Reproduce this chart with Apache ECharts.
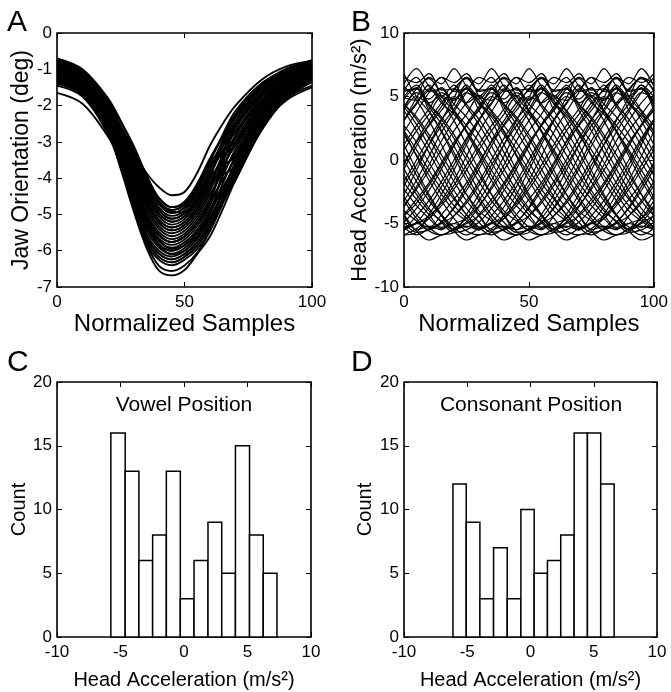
<!DOCTYPE html>
<html><head><meta charset="utf-8">
<script src="https://cdn.jsdelivr.net/npm/echarts@6/dist/echarts.min.js"></script>
<style>html,body{margin:0;padding:0;background:#fff}#c{width:671px;height:692px}</style>
</head><body><div id="c"></div>
<script>
// ---------- Panel A: jaw orientation traces (deg) ----------
const samplesA = [0,10,20,25,30,35,40,45,50,55,60,65,70,80,90,100];
const jawTraces = [
[-0.70,-1.00,-1.80,-2.43,-3.19,-4.00,-4.64,-4.88,-4.73,-4.24,-3.55,-2.80,-2.15,-1.40,-1.00,-0.75],
[-0.74,-1.04,-1.85,-2.43,-3.10,-3.90,-4.55,-4.80,-4.65,-4.15,-3.45,-2.85,-2.34,-1.53,-1.08,-0.81],
[-0.77,-1.07,-1.90,-2.56,-3.36,-4.19,-4.81,-5.04,-4.89,-4.42,-3.75,-2.95,-2.25,-1.47,-1.04,-0.78],
[-0.81,-1.11,-1.95,-2.56,-3.27,-4.09,-4.72,-4.96,-4.81,-4.33,-3.65,-3.05,-2.53,-1.66,-1.16,-0.87],
[-0.84,-1.14,-2.00,-2.69,-3.53,-4.38,-4.98,-5.20,-5.05,-4.60,-3.95,-3.15,-2.44,-1.60,-1.12,-0.84],
[-0.88,-1.18,-2.05,-2.69,-3.44,-4.28,-4.89,-5.12,-4.97,-4.51,-3.85,-3.25,-2.72,-1.79,-1.24,-0.93],
[-0.91,-1.21,-2.10,-2.82,-3.70,-4.57,-5.15,-5.36,-5.21,-4.78,-4.15,-3.35,-2.63,-1.73,-1.20,-0.90],
[-0.95,-1.25,-2.15,-2.82,-3.61,-4.47,-5.06,-5.28,-5.13,-4.69,-4.05,-3.45,-2.91,-1.92,-1.32,-0.99],
[-0.98,-1.28,-2.20,-2.95,-3.87,-4.76,-5.32,-5.52,-5.37,-4.96,-4.35,-3.55,-2.82,-1.86,-1.28,-0.96],
[-1.02,-1.32,-2.25,-2.95,-3.78,-4.66,-5.23,-5.44,-5.29,-4.87,-4.25,-3.65,-3.10,-2.05,-1.40,-1.05],
[-1.05,-1.35,-2.30,-3.08,-4.04,-4.95,-5.49,-5.68,-5.53,-5.14,-4.55,-3.75,-3.01,-1.99,-1.36,-1.02],
[-1.09,-1.39,-2.35,-3.08,-3.95,-4.85,-5.40,-5.60,-5.45,-5.05,-4.45,-3.85,-3.29,-2.18,-1.48,-1.11],
[-1.12,-1.42,-2.40,-3.21,-4.21,-5.14,-5.66,-5.84,-5.69,-5.32,-4.75,-3.95,-3.20,-2.12,-1.44,-1.08],
[-1.16,-1.46,-2.45,-3.21,-4.12,-5.04,-5.57,-5.76,-5.61,-5.23,-4.65,-4.05,-3.48,-2.31,-1.56,-1.17],
[-1.19,-1.49,-2.50,-3.34,-4.38,-5.33,-5.83,-6.00,-5.85,-5.50,-4.95,-4.15,-3.39,-2.25,-1.52,-1.14],
[-1.23,-1.53,-2.55,-3.34,-4.29,-5.23,-5.74,-5.92,-5.77,-5.41,-4.85,-4.25,-3.67,-2.44,-1.64,-1.23],
[-1.26,-1.56,-2.60,-3.47,-4.55,-5.52,-6.00,-6.16,-6.01,-5.68,-5.15,-4.35,-3.58,-2.38,-1.60,-1.20],
[-1.30,-1.60,-2.65,-3.47,-4.46,-5.42,-5.91,-6.08,-5.93,-5.59,-5.05,-4.45,-3.86,-2.57,-1.72,-1.29],
[-1.33,-1.63,-2.70,-3.60,-4.72,-5.71,-6.17,-6.32,-6.17,-5.86,-5.35,-4.55,-3.77,-2.51,-1.68,-1.26],
[-1.37,-1.67,-2.75,-3.60,-4.63,-5.61,-6.08,-6.24,-6.09,-5.77,-5.25,-4.65,-4.05,-2.70,-1.80,-1.35],
[-1.40,-1.70,-2.80,-3.70,-4.80,-5.80,-6.25,-6.40,-6.25,-5.95,-5.45,-4.70,-3.96,-2.64,-1.76,-1.32],
[-0.88,-1.18,-2.05,-3.05,-4.38,-5.33,-5.83,-6.00,-5.85,-5.50,-4.95,-3.85,-2.82,-1.86,-1.28,-0.96],
[-1.23,-1.53,-2.55,-3.05,-3.53,-4.38,-4.98,-5.20,-5.05,-4.60,-3.95,-3.65,-3.39,-2.25,-1.52,-1.14],
[-0.77,-1.07,-1.90,-2.86,-4.12,-5.04,-5.57,-5.76,-5.61,-5.23,-4.65,-3.60,-2.63,-1.73,-1.20,-0.90],
[-1.12,-1.42,-2.40,-2.86,-3.27,-4.09,-4.72,-4.96,-4.81,-4.33,-3.65,-3.35,-3.10,-2.05,-1.40,-1.05],
[-0.98,-1.28,-2.20,-3.25,-4.63,-5.61,-6.08,-6.24,-6.09,-5.77,-5.25,-4.40,-3.58,-2.38,-1.60,-1.20],
[-1.33,-1.63,-2.70,-3.25,-3.78,-4.66,-5.23,-5.44,-5.29,-4.87,-4.25,-3.35,-2.53,-1.66,-1.16,-0.87],
[-1.05,-1.35,-2.30,-2.86,-3.44,-4.28,-4.89,-5.12,-4.97,-4.51,-3.85,-3.05,-2.34,-1.53,-1.08,-0.81],
[-0.84,-1.14,-2.00,-3.15,-4.72,-5.71,-6.17,-6.32,-6.17,-5.86,-5.35,-4.60,-3.86,-2.57,-1.72,-1.29],
[-0.95,-1.25,-2.15,-2.66,-3.19,-4.00,-4.64,-4.88,-4.73,-4.24,-3.55,-3.25,-3.01,-1.99,-1.36,-1.02],
[-1.26,-1.56,-2.60,-3.31,-4.12,-5.04,-5.57,-5.76,-5.61,-5.23,-4.65,-3.40,-2.25,-1.47,-1.04,-0.78],
[-0.74,-1.04,-1.85,-2.66,-3.70,-4.57,-5.15,-5.36,-5.21,-4.78,-4.15,-3.90,-3.67,-2.44,-1.64,-1.23],
[-1.33,-1.63,-2.70,-3.75,-4.89,-5.90,-6.55,-6.68,-6.53,-6.09,-5.60,-4.85,-4.05,-2.70,-1.80,-1.35],
[-1.26,-1.56,-2.60,-3.64,-4.80,-5.80,-6.42,-6.56,-6.41,-6.05,-5.45,-4.65,-3.86,-2.57,-1.72,-1.29],
[-0.85,-1.15,-2.00,-2.70,-3.30,-3.85,-4.25,-4.47,-4.38,-3.85,-3.10,-2.50,-2.00,-1.30,-0.92,-0.78],
[-0.90,-1.20,-2.10,-2.80,-3.50,-4.10,-4.55,-4.80,-4.72,-4.25,-3.50,-2.85,-2.25,-1.45,-0.98,-0.80],
[-1.00,-1.30,-2.20,-2.90,-3.60,-4.25,-4.70,-4.93,-4.95,-4.60,-3.90,-3.00,-2.30,-1.45,-1.00,-0.85],
[-1.65,-1.95,-2.85,-3.50,-4.30,-5.10,-5.70,-5.95,-5.85,-5.50,-4.95,-4.30,-3.65,-2.55,-1.85,-1.50],
[-1.45,-1.75,-2.75,-3.45,-4.35,-5.25,-5.85,-6.10,-6.00,-5.65,-5.10,-4.45,-3.75,-2.60,-1.80,-1.45]
];

// ---------- Panel B: head acceleration traces (m/s^2) ----------
const samplesB = [0,5,10,15,20,25,30,35,40,45,50,55,60,65,70,75,80,85,90,95,100];
const headTraces = [
[5.0,5.9,4.4,3.2,1.7,0,-1.7,-3.2,-4.4,-5.5,-5.2,-5.5,-4.4,-3.2,-1.7,0,1.7,3.2,4.4,5.9,5.0],
[6.5,6.1,6.8,5.0,3.8,2.2,0.3,-1.6,-3.2,-4.6,-5.6,-5.9,-5.4,-4.6,-3.2,-1.6,0.3,2.2,3.8,5.3,6.5],
[3.9,5.0,4.5,5.1,3.9,2.7,1.4,-0.2,-1.8,-3.1,-4.3,-5.3,-5.0,-5.3,-4.3,-3.1,-1.8,-0.2,1.4,2.7,3.9],
[3.2,4.4,5.9,5.0,5.9,4.4,3.2,1.7,0,-1.7,-3.2,-4.4,-5.5,-5.2,-5.5,-4.4,-3.2,-1.7,0,1.7,3.2],
[2.2,3.8,5.3,6.5,6.1,6.8,5.0,3.8,2.2,0.3,-1.6,-3.2,-4.6,-5.6,-5.9,-5.4,-4.6,-3.2,-1.6,0.3,2.2],
[-0.2,1.4,2.7,3.9,5.0,4.5,5.1,3.9,2.7,1.4,-0.2,-1.8,-3.1,-4.3,-5.3,-5.0,-5.3,-4.3,-3.1,-1.8,-0.2],
[-1.7,0,1.7,3.2,4.4,5.9,5.0,5.9,4.4,3.2,1.7,0,-1.7,-3.2,-4.4,-5.5,-5.2,-5.5,-4.4,-3.2,-1.7],
[-3.2,-1.6,0.3,2.2,3.8,5.3,6.5,6.1,6.8,5.0,3.8,2.2,0.3,-1.6,-3.2,-4.6,-5.6,-5.9,-5.4,-4.6,-3.2],
[-4.3,-3.1,-1.8,-0.2,1.4,2.7,3.9,5.0,4.5,5.1,3.9,2.7,1.4,-0.2,-1.8,-3.1,-4.3,-5.3,-5.0,-5.3,-4.3],
[-5.5,-4.4,-3.2,-1.7,0,1.7,3.2,4.4,5.9,5.0,5.9,4.4,3.2,1.7,0,-1.7,-3.2,-4.4,-5.5,-5.2,-5.5],
[-5.9,-5.4,-4.6,-3.2,-1.6,0.3,2.2,3.8,5.3,6.5,6.1,6.8,5.0,3.8,2.2,0.3,-1.6,-3.2,-4.6,-5.6,-5.9],
[-5.3,-5.0,-5.3,-4.3,-3.1,-1.8,-0.2,1.4,2.7,3.9,5.0,4.5,5.1,3.9,2.7,1.4,-0.2,-1.8,-3.1,-4.3,-5.3],
[-4.4,-5.5,-5.2,-5.5,-4.4,-3.2,-1.7,0,1.7,3.2,4.4,5.9,5.0,5.9,4.4,3.2,1.7,0,-1.7,-3.2,-4.4],
[-3.2,-4.6,-5.6,-5.9,-5.4,-4.6,-3.2,-1.6,0.3,2.2,3.8,5.3,6.5,6.1,6.8,5.0,3.8,2.2,0.3,-1.6,-3.2],
[-1.8,-3.1,-4.3,-5.3,-5.0,-5.3,-4.3,-3.1,-1.8,-0.2,1.4,2.7,3.9,5.0,4.5,5.1,3.9,2.7,1.4,-0.2,-1.8],
[0,-1.7,-3.2,-4.4,-5.5,-5.2,-5.5,-4.4,-3.2,-1.7,0,1.7,3.2,4.4,5.9,5.0,5.9,4.4,3.2,1.7,0],
[2.2,0.3,-1.6,-3.2,-4.6,-5.6,-5.9,-5.4,-4.6,-3.2,-1.6,0.3,2.2,3.8,5.3,6.5,6.1,6.8,5.0,3.8,2.2],
[2.7,1.4,-0.2,-1.8,-3.1,-4.3,-5.3,-5.0,-5.3,-4.3,-3.1,-1.8,-0.2,1.4,2.7,3.9,5.0,4.5,5.1,3.9,2.7],
[4.4,3.2,1.7,0,-1.7,-3.2,-4.4,-5.5,-5.2,-5.5,-4.4,-3.2,-1.7,0,1.7,3.2,4.4,5.9,5.0,5.9,4.4],
[6.8,5.0,3.8,2.2,0.3,-1.6,-3.2,-4.6,-5.6,-5.9,-5.4,-4.6,-3.2,-1.6,0.3,2.2,3.8,5.3,6.5,6.1,6.8],
[5.5,5.6,4.2,2.8,1.1,-0.7,-2.4,-3.8,-4.9,-5.7,-5.5,-4.9,-3.8,-2.4,-0.7,1.1,2.8,4.2,5.6,6.4,5.5],
[6.0,7.2,5.8,4.7,3.1,1.2,-0.8,-2.7,-4.3,-5.6,-6.3,-5.9,-5.7,-4.3,-2.7,-0.8,1.2,3.1,4.9,6.5,6.0],
[4.9,4.7,5.6,4.5,3.6,2.3,0.8,-0.8,-2.3,-3.6,-4.6,-5.4,-5.0,-4.6,-3.6,-2.3,-0.8,0.8,2.3,3.6,4.9],
[4.2,5.6,6.4,5.5,5.6,4.2,2.8,1.1,-0.7,-2.4,-3.8,-4.9,-5.7,-5.5,-4.9,-3.8,-2.4,-0.7,1.1,2.8,4.2],
[3.1,4.9,6.5,6.0,7.2,5.8,4.7,3.1,1.2,-0.8,-2.7,-4.3,-5.6,-6.3,-5.9,-5.7,-4.3,-2.7,-0.8,1.2,3.1],
[0.8,2.3,3.6,4.9,4.7,5.6,4.5,3.6,2.3,0.8,-0.8,-2.3,-3.6,-4.6,-5.4,-5.0,-4.6,-3.6,-2.3,-0.8,0.8],
[-0.7,1.1,2.8,4.2,5.6,6.4,5.5,5.6,4.2,2.8,1.1,-0.7,-2.4,-3.8,-4.9,-5.7,-5.5,-4.9,-3.8,-2.4,-0.7],
[-2.7,-0.8,1.2,3.1,4.9,6.5,6.0,7.2,5.8,4.7,3.1,1.2,-0.8,-2.7,-4.3,-5.6,-6.3,-5.9,-5.7,-4.3,-2.7],
[-3.6,-2.3,-0.8,0.8,2.3,3.6,4.9,4.7,5.6,4.5,3.6,2.3,0.8,-0.8,-2.3,-3.6,-4.6,-5.4,-5.0,-4.6,-3.6],
[-4.9,-3.8,-2.4,-0.7,1.1,2.8,4.2,5.6,6.4,5.5,5.6,4.2,2.8,1.1,-0.7,-2.4,-3.8,-4.9,-5.7,-5.5,-4.9],
[-5.9,-5.7,-4.3,-2.7,-0.8,1.2,3.1,4.9,6.5,6.0,7.2,5.8,4.7,3.1,1.2,-0.8,-2.7,-4.3,-5.6,-6.3,-5.9],
[-5.4,-5.0,-4.6,-3.6,-2.3,-0.8,0.8,2.3,3.6,4.9,4.7,5.6,4.5,3.6,2.3,0.8,-0.8,-2.3,-3.6,-4.6,-5.4],
[-4.9,-5.7,-5.5,-4.9,-3.8,-2.4,-0.7,1.1,2.8,4.2,5.6,6.4,5.5,5.6,4.2,2.8,1.1,-0.7,-2.4,-3.8,-4.9],
[-4.3,-5.6,-6.3,-5.9,-5.7,-4.3,-2.7,-0.8,1.2,3.1,4.9,6.5,6.0,7.2,5.8,4.7,3.1,1.2,-0.8,-2.7,-4.3],
[-2.3,-3.6,-4.6,-5.4,-5.0,-4.6,-3.6,-2.3,-0.8,0.8,2.3,3.6,4.9,4.7,5.6,4.5,3.6,2.3,0.8,-0.8,-2.3],
[-0.7,-2.4,-3.8,-4.9,-5.7,-5.5,-4.9,-3.8,-2.4,-0.7,1.1,2.8,4.2,5.6,6.4,5.5,5.6,4.2,2.8,1.1,-0.7],
[1.2,-0.8,-2.7,-4.3,-5.6,-6.3,-5.9,-5.7,-4.3,-2.7,-0.8,1.2,3.1,4.9,6.5,6.0,7.2,5.8,4.7,3.1,1.2],
[2.3,0.8,-0.8,-2.3,-3.6,-4.6,-5.4,-5.0,-4.6,-3.6,-2.3,-0.8,0.8,2.3,3.6,4.9,4.7,5.6,4.5,3.6,2.3],
[4.2,2.8,1.1,-0.7,-2.4,-3.8,-4.9,-5.7,-5.5,-4.9,-3.8,-2.4,-0.7,1.1,2.8,4.2,5.6,6.4,5.5,5.6,4.2],
[5.8,4.7,3.1,1.2,-0.8,-2.7,-4.3,-5.6,-6.3,-5.9,-5.7,-4.3,-2.7,-0.8,1.2,3.1,4.9,6.5,6.0,7.2,5.8],
[5.4,5.6,3.9,2.3,0.6,-1.2,-2.9,-4.3,-5.3,-5.9,-5.4,-4.9,-3.7,-2.1,-0.4,1.5,3.1,4.5,5.5,6.5,5.4],
[5.5,6.5,5.4,5.6,3.9,2.3,0.6,-1.2,-2.9,-4.3,-5.3,-5.9,-5.4,-4.9,-3.7,-2.1,-0.4,1.5,3.1,4.5,5.5],
[3.1,4.5,5.5,6.5,5.4,5.6,3.9,2.3,0.6,-1.2,-2.9,-4.3,-5.3,-5.9,-5.4,-4.9,-3.7,-2.1,-0.4,1.5,3.1],
[-0.4,1.5,3.1,4.5,5.5,6.5,5.4,5.6,3.9,2.3,0.6,-1.2,-2.9,-4.3,-5.3,-5.9,-5.4,-4.9,-3.7,-2.1,-0.4],
[-3.7,-2.1,-0.4,1.5,3.1,4.5,5.5,6.5,5.4,5.6,3.9,2.3,0.6,-1.2,-2.9,-4.3,-5.3,-5.9,-5.4,-4.9,-3.7],
[-5.4,-4.9,-3.7,-2.1,-0.4,1.5,3.1,4.5,5.5,6.5,5.4,5.6,3.9,2.3,0.6,-1.2,-2.9,-4.3,-5.3,-5.9,-5.4],
[-5.3,-5.9,-5.4,-4.9,-3.7,-2.1,-0.4,1.5,3.1,4.5,5.5,6.5,5.4,5.6,3.9,2.3,0.6,-1.2,-2.9,-4.3,-5.3],
[-2.9,-4.3,-5.3,-5.9,-5.4,-4.9,-3.7,-2.1,-0.4,1.5,3.1,4.5,5.5,6.5,5.4,5.6,3.9,2.3,0.6,-1.2,-2.9],
[0.6,-1.2,-2.9,-4.3,-5.3,-5.9,-5.4,-4.9,-3.7,-2.1,-0.4,1.5,3.1,4.5,5.5,6.5,5.4,5.6,3.9,2.3,0.6],
[3.9,2.3,0.6,-1.2,-2.9,-4.3,-5.3,-5.9,-5.4,-4.9,-3.7,-2.1,-0.4,1.5,3.1,4.5,5.5,6.5,5.4,5.6,3.9],
[4.8,5.7,4.4,3.4,2.0,0.4,-1.2,-2.7,-4.0,-4.8,-5.5,-5.0,-4.4,-3.4,-2.0,-0.4,1.2,2.7,4.0,5.3,4.8],
[4.0,5.3,4.8,5.7,4.4,3.4,2.0,0.4,-1.2,-2.7,-4.0,-4.8,-5.5,-5.0,-4.4,-3.4,-2.0,-0.4,1.2,2.7,4.0],
[1.2,2.7,4.0,5.3,4.8,5.7,4.4,3.4,2.0,0.4,-1.2,-2.7,-4.0,-4.8,-5.5,-5.0,-4.4,-3.4,-2.0,-0.4,1.2],
[-2.0,-0.4,1.2,2.7,4.0,5.3,4.8,5.7,4.4,3.4,2.0,0.4,-1.2,-2.7,-4.0,-4.8,-5.5,-5.0,-4.4,-3.4,-2.0],
[-4.4,-3.4,-2.0,-0.4,1.2,2.7,4.0,5.3,4.8,5.7,4.4,3.4,2.0,0.4,-1.2,-2.7,-4.0,-4.8,-5.5,-5.0,-4.4],
[-5.5,-5.0,-4.4,-3.4,-2.0,-0.4,1.2,2.7,4.0,5.3,4.8,5.7,4.4,3.4,2.0,0.4,-1.2,-2.7,-4.0,-4.8,-5.5],
[-4.0,-4.8,-5.5,-5.0,-4.4,-3.4,-2.0,-0.4,1.2,2.7,4.0,5.3,4.8,5.7,4.4,3.4,2.0,0.4,-1.2,-2.7,-4.0],
[-1.2,-2.7,-4.0,-4.8,-5.5,-5.0,-4.4,-3.4,-2.0,-0.4,1.2,2.7,4.0,5.3,4.8,5.7,4.4,3.4,2.0,0.4,-1.2],
[2.0,0.4,-1.2,-2.7,-4.0,-4.8,-5.5,-5.0,-4.4,-3.4,-2.0,-0.4,1.2,2.7,4.0,5.3,4.8,5.7,4.4,3.4,2.0],
[4.4,3.4,2.0,0.4,-1.2,-2.7,-4.0,-4.8,-5.5,-5.0,-4.4,-3.4,-2.0,-0.4,1.2,2.7,4.0,5.3,4.8,5.7,4.4]
];

// ---------- Panels C, D: histograms ----------
const binEdgesC = [-5.76,-4.63,-3.55,-2.47,-1.39,-0.29,0.79,1.89,2.97,4.05,5.16,6.24,7.32];
const countsC   = [16,13,6,8,13,3,6,9,5,15,8,5];
const binEdgesD = [-6.13,-5.08,-4.0,-2.92,-1.84,-0.76,0.29,1.34,2.39,3.45,4.5,5.55,6.61];
const countsD   = [12,9,3,7,3,10,5,6,8,16,16,12];

// ---------- tick labels ----------
const ticksSamples = [0,50,100];
const ticksJaw = [-7,-6,-5,-4,-3,-2,-1,0];
const ticksHead = [-10,-5,0,5,10];
const ticksHistX = [-10,-5,0,5,10];
const ticksCount = [0,5,10,15,20];

const FONT = '"Liberation Sans", Arial, Helvetica, sans-serif';
const grids = [
  {left:57, top:33, width:255, height:254},
  {left:404, top:33, width:253, height:254},
  {left:57, top:382, width:254, height:255},
  {left:404, top:382, width:253, height:255}
].map(g => Object.assign(g, {show:true, borderColor:'#000', borderWidth:1.6, backgroundColor:'transparent', containLabel:false}));

function rng(t){ return {min:t[0], max:t[t.length-1], interval:t[1]-t[0]}; }
const tickStyle = {inside:true, length:5, lineStyle:{color:'#000', width:1}};
const labelStyle = {color:'#000', fontSize:17, fontFamily:FONT};
const noLine = {show:false, onZero:false};

const xAxes = [], yAxes = [];
function addAxes(g, xt, yt, xName, xGap, xSize, yName, yGap, ySize){
  xAxes.push(Object.assign({type:'value', gridIndex:g, position:'bottom',
    axisLine:noLine, axisTick:tickStyle, splitLine:{show:false},
    axisLabel:Object.assign({margin:7}, labelStyle),
    name:xName, nameLocation:'middle', nameGap:xGap,
    nameTextStyle:{color:'#000', fontSize:xSize, fontFamily:FONT}}, rng(xt)));
  xAxes.push(Object.assign({type:'value', gridIndex:g, position:'top',
    axisLine:noLine, axisTick:tickStyle, splitLine:{show:false}, axisLabel:{show:false}}, rng(xt)));
  yAxes.push(Object.assign({type:'value', gridIndex:g, position:'left',
    axisLine:noLine, axisTick:tickStyle, splitLine:{show:false},
    axisLabel:Object.assign({margin:5}, labelStyle),
    name:yName, nameLocation:'middle', nameGap:yGap,
    nameTextStyle:{color:'#000', fontSize:ySize, fontFamily:FONT}}, rng(yt)));
  yAxes.push(Object.assign({type:'value', gridIndex:g, position:'right',
    axisLine:noLine, axisTick:tickStyle, splitLine:{show:false}, axisLabel:{show:false}}, rng(yt)));
}
addAxes(0, ticksSamples, ticksJaw, 'Normalized Samples', 22, 24, 'Jaw Orientation (deg)', 24, 23);
addAxes(1, ticksSamples, ticksHead, 'Normalized Samples', 22, 24, 'Head Acceleration (m/s²)', 26, 22);
addAxes(2, ticksHistX, ticksCount, 'Head Acceleration (m/s²)', 33, 20, 'Count', 27, 20);
addAxes(3, ticksHistX, ticksCount, 'Head Acceleration (m/s²)', 33, 20, 'Count', 29, 20);

const series = [];
jawTraces.forEach(tr => series.push({type:'line', xAxisIndex:0, yAxisIndex:0,
  data: samplesA.map((x,i)=>[x,tr[i]]), smooth:0.35, showSymbol:false, silent:true,
  lineStyle:{color:'#000', width:1.9}, animation:false}));
headTraces.forEach(tr => series.push({type:'line', xAxisIndex:2, yAxisIndex:2,
  data: samplesB.map((x,i)=>[x,tr[i]]), smooth:0.35, showSymbol:false, silent:true,
  lineStyle:{color:'#000', width:1.2}, animation:false}));

function hist(edges, counts, axisIdx){
  return {type:'custom', xAxisIndex:axisIdx, yAxisIndex:axisIdx, silent:true, animation:false,
    data: counts.map((c,i)=>[edges[i], edges[i+1], c]),
    encode:{x:[0,1], y:2},
    renderItem:(params, api)=>{
      const p0 = api.coord([api.value(0), 0]);
      const p1 = api.coord([api.value(1), api.value(2)]);
      return {type:'rect', shape:{x:p0[0], y:p1[1], width:p1[0]-p0[0], height:p0[1]-p1[1]},
        style:{fill:'#fff', stroke:'#000', lineWidth:1.5}};
    }};
}
series.push(hist(binEdgesC, countsC, 4));
series.push(hist(binEdgesD, countsD, 6));

const letterFont = '30px ' + FONT;
const titleFont = '21px ' + FONT;
const graphic = [
  {type:'text', x:7, y:23, style:{text:'A', font:letterFont, fill:'#000', textVerticalAlign:'middle'}},
  {type:'text', x:351, y:23, style:{text:'B', font:letterFont, fill:'#000', textVerticalAlign:'middle'}},
  {type:'text', x:7, y:363, style:{text:'C', font:letterFont, fill:'#000', textVerticalAlign:'middle'}},
  {type:'text', x:351, y:363, style:{text:'D', font:letterFont, fill:'#000', textVerticalAlign:'middle'}},
  {type:'text', x:184, y:405, style:{text:'Vowel Position', font:titleFont, fill:'#000', textAlign:'center', textVerticalAlign:'middle'}},
  {type:'text', x:531, y:405, style:{text:'Consonant Position', font:titleFont, fill:'#000', textAlign:'center', textVerticalAlign:'middle'}}
];

const chart = echarts.init(document.getElementById('c'), null, {renderer:'canvas'});
chart.setOption({animation:false, backgroundColor:'#fff', grid:grids, xAxis:xAxes, yAxis:yAxes, series:series, graphic:graphic});
</script></body></html>
